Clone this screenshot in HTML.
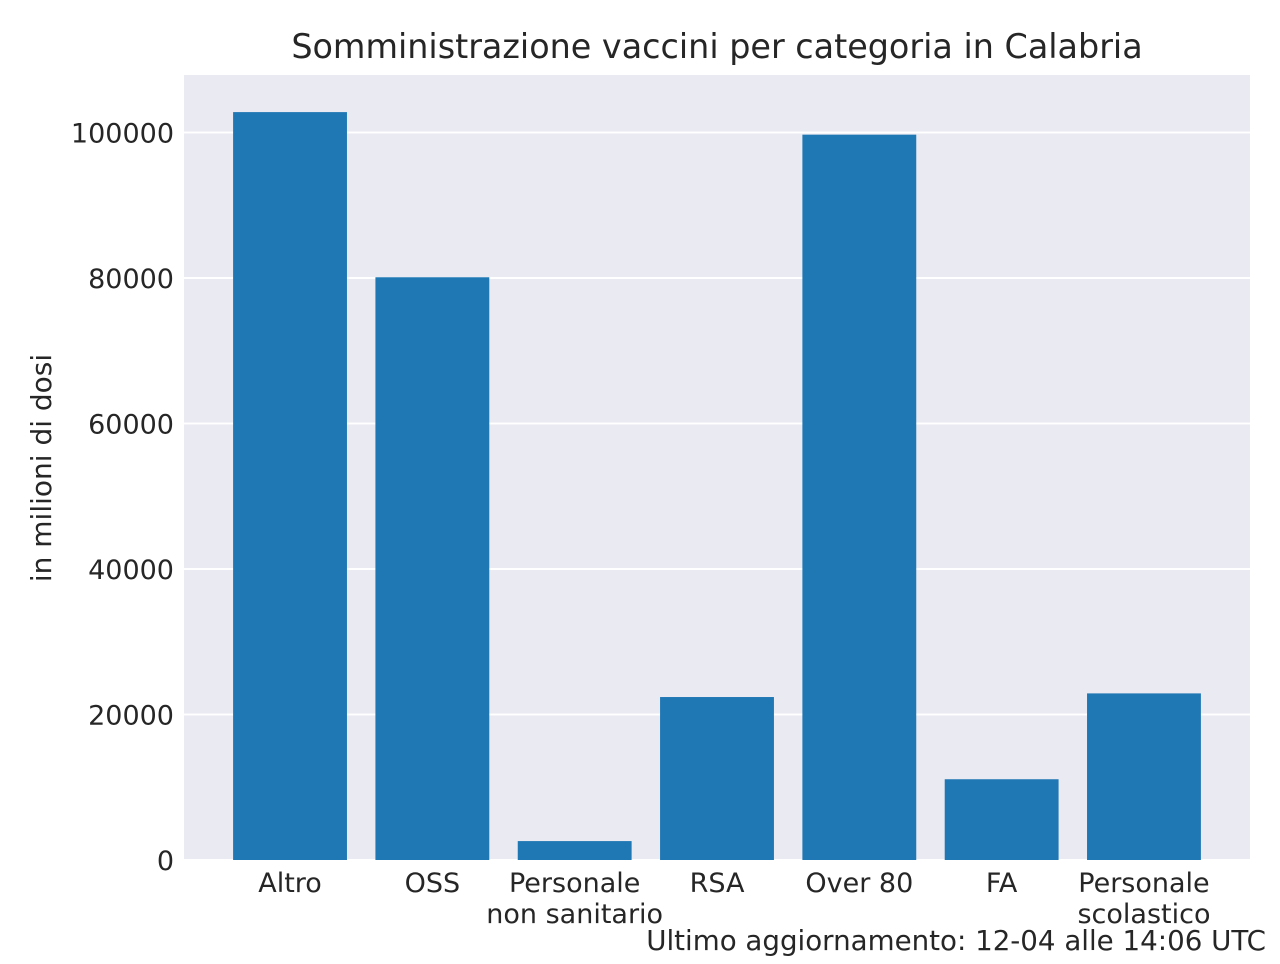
<!DOCTYPE html>
<html><head><meta charset="utf-8">
<style>
body{margin:0;background:#fff;font-family:"DejaVu Sans","Liberation Sans",sans-serif;}
svg text{font-family:"DejaVu Sans","Liberation Sans",sans-serif;fill:#262626;}
</style></head>
<body>
<svg id="chart" width="1280" height="960" xmlns="http://www.w3.org/2000/svg">
<rect width="1280" height="960" fill="#fff"/>
<rect x="184" y="75" width="1066" height="785" fill="#eaeaf2"/>
<g id="grid"></g>
<g id="bars"></g>
<g id="ticks"></g>
<text x="717" y="58" font-size="33.4" text-anchor="middle">Somministrazione vaccini per categoria in Calabria</text>
<text transform="translate(51,468) rotate(-90)" font-size="28" text-anchor="middle">in milioni di dosi</text>
<text x="1266" y="950" font-size="27.7" text-anchor="end">Ultimo aggiornamento: 12-04 alle 14:06 UTC</text>
</svg>
<script>
const categories=[["Altro"],["OSS"],["Personale","non sanitario"],["RSA"],["Over 80"],["FA"],["Personale","scolastico"]];
const values=[102800,80100,2600,22400,99700,11100,22900];
const yTicks=[0,20000,40000,60000,80000,100000];

const L=184,R=1250,T=75,B=860;
const xmin=-0.745,xmax=categories.length-1+0.745,ymax=107900;
const xs=v=>L+(v-xmin)/(xmax-xmin)*(R-L);
const ys=v=>B-v/ymax*(B-T);
const NS="http://www.w3.org/2000/svg";
function mk(tag,attrs,parent){const e=document.createElementNS(NS,tag);for(const k in attrs)e.setAttribute(k,attrs[k]);parent.appendChild(e);return e;}
const grid=document.getElementById('grid'),bars=document.getElementById('bars'),ticks=document.getElementById('ticks');
yTicks.forEach(t=>{
  const l=mk('line',{x1:L,x2:R,y1:ys(t),y2:ys(t),stroke:'#fff','stroke-width':2},grid);
  
  
  const tx=mk('text',{x:L-10,y:ys(t)+10,'font-size':27,'text-anchor':'end'},ticks);
  tx.textContent=t;
  
  
});
const bw=0.8*(xs(1)-xs(0));
values.forEach((v,i)=>{
  const r=mk('rect',{x:xs(i)-bw/2,y:ys(v),width:bw,height:B-ys(v),fill:'#1f77b4'},bars);
  
  
  const tx=mk('text',{x:xs(i),y:892,'font-size':27,'text-anchor':'middle'},ticks);
  
  
  categories[i].forEach((s,j)=>{const ts=mk('tspan',{x:xs(i),dy:j?31:0},tx);ts.textContent=s;});
});
</script>
</body></html>
